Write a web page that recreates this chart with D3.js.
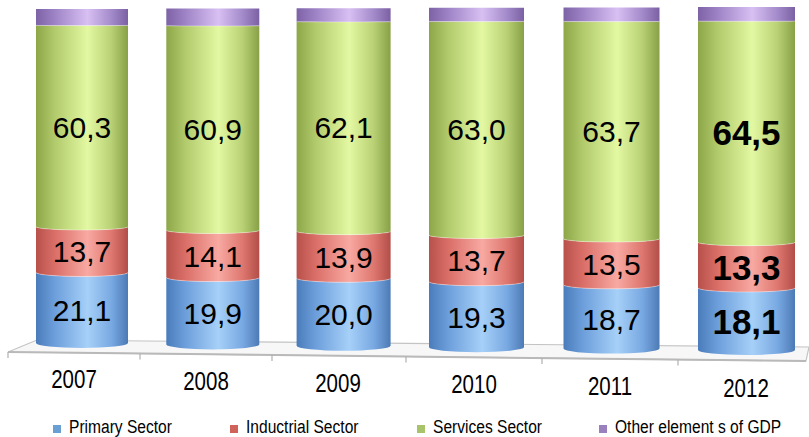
<!DOCTYPE html>
<html>
<head>
<meta charset="utf-8">
<script src="https://cdn.jsdelivr.net/npm/d3@7"></script>
<style>
  html, body { margin: 0; padding: 0; background: #fff; }
  svg { display: block; }
</style>
</head>
<body>
<svg id="chart" width="809" height="437"></svg>
<script>
// ---------- DATA ----------
const years = ["2007", "2008", "2009", "2010", "2011", "2012"];
const primary = [21.1, 19.9, 20.0, 19.3, 18.7, 18.1];
const industrial = [13.7, 14.1, 13.9, 13.7, 13.5, 13.3];
const services = [60.3, 60.9, 62.1, 63.0, 63.7, 64.5];
const other = [4.9, 5.1, 4.0, 4.0, 4.1, 4.1];
const seriesNames = ["Primary Sector", "Inductrial Sector", "Services Sector", "Other element s of GDP"];
const seriesKeys = ["primary", "industrial", "services", "other"];

// ---------- SETUP ----------
const svg = d3.select("#chart");
const rows = years.map((y, i) => ({
  year: y, primary: primary[i], industrial: industrial[i], services: services[i], other: other[i]
}));
const stack = d3.stack().keys(seriesKeys)(rows);

const idx = d3.scaleOrdinal().domain(years).range(d3.range(years.length));
// slight perspective: positions / sizes vary across bars
const xC = d3.scaleLinear().domain([0, 2.5, 5]).range([82, 409, 746.5]);
const barW = d3.scaleLinear().domain([0, 5]).range([92, 97]);
const yBase = d3.scaleLinear().domain([0, 5]).range([343, 350]);
const yTopS = d3.scaleLinear().domain([0, 5]).range([9, 7]);
const labelX = d3.scaleLinear().domain([0, 2, 5]).range([74, 338, 746]);
const labelY = d3.scaleLinear().domain([0, 5]).range([388, 397]);
const yScales = years.map((y, i) => d3.scaleLinear().domain([0, 100]).range([yBase(i), yTopS(i)]));
const ryAt = (i, y) => 5 * (y - yTopS(i)) / (yBase(i) - yTopS(i));

const fmt = v => d3.format(".1f")(v).replace(".", ",");
const NARROW = 0.82; // emulate a narrow sans with horizontal scaling

// ---------- GRADIENTS ----------
const gradStops = {
  primary:    ["#4a7cbb", "#6c9edb", "#a6d0f8", "#79a9e2", "#4c7ab5"],
  industrial: ["#b8514b", "#d96e67", "#f8a9a2", "#de776f", "#b24e48"],
  services:   ["#8ca648", "#b1ca6b", "#e3f8a2", "#b9d174", "#88a046"],
  other:      ["#7d63a6", "#9d83c5", "#d8c0f3", "#a38aca", "#7b61a3"]
};
const stopPos = [0, 0.2, 0.56, 0.82, 1];
const defs = svg.append("defs");
seriesKeys.forEach(k => {
  const g = defs.append("linearGradient").attr("id", "g-" + k)
    .attr("x1", "0%").attr("x2", "100%").attr("y1", "0%").attr("y2", "0%");
  gradStops[k].forEach((c, j) => g.append("stop").attr("offset", stopPos[j]).attr("stop-color", c));
});
const legendColors = { primary: "#6a9fd4", industrial: "#d0625c", services: "#a8c46a", other: "#9a80bd" };

// ---------- FLOOR ----------
const floorG = svg.append("g");
const fl = [[37, 340], [809, 347], [806, 361], [8, 352]];
floorG.append("path")
  .attr("d", "M" + fl.map(p => p.join(",")).join("L") + "Z")
  .attr("fill", "#f7f7f7").attr("stroke", "#c4c4c4").attr("stroke-width", 1.2);
const frontY = d3.scaleLinear().domain([8, 806]).range([352, 361]);
floorG.append("line")
  .attr("x1", 8).attr("y1", frontY(8)).attr("x2", 806).attr("y2", frontY(806))
  .attr("stroke", "#b9b9b9").attr("stroke-width", 2);
const tickXs = [8].concat(d3.range(years.length - 1).map(i => (labelX(i) + labelX(i + 1)) / 2));
floorG.selectAll("line.tick").data(tickXs).enter().append("line")
  .attr("class", "tick")
  .attr("x1", d => d).attr("x2", d => d)
  .attr("y1", d => frontY(d)).attr("y2", d => frontY(d) + 6)
  .attr("stroke", "#b0b0b0").attr("stroke-width", 1.2);

// ---------- BARS ----------
const barsG = svg.append("g");
function segPath(i, v0, v1) {
  const ys = yScales[i];
  const cx = xC(i), w = barW(i), rx = w / 2;
  const x0 = cx - rx, x1 = cx + rx;
  const yb = ys(v0), yt = ys(v1);
  const rb = Math.max(ryAt(i, yb), 0.01), rt = Math.max(ryAt(i, yt), 0.01);
  return `M${x0},${yt} A${rx},${rt} 0 0 0 ${x1},${yt} L${x1},${yb} A${rx},${rb} 0 0 1 ${x0},${yb} Z`;
}
stack.forEach(layer => {
  const k = layer.key;
  barsG.selectAll(null).data(layer).enter().append("path")
    .attr("d", (d, j) => segPath(j, d[0], d[1]))
    .attr("fill", "url(#g-" + k + ")");
});
// thin highlight on segment boundaries
stack.slice(0, 3).forEach(layer => {
  barsG.selectAll(null).data(layer).enter().append("path")
    .attr("d", (d, j) => {
      const ys = yScales[j], cx = xC(j), rx = barW(j) / 2;
      const y = ys(d[1]), r = Math.max(ryAt(j, y), 0.01);
      return `M${cx - rx},${y} A${rx},${r} 0 0 0 ${cx + rx},${y}`;
    })
    .attr("fill", "none").attr("stroke", "rgba(255,255,255,0.35)").attr("stroke-width", 1);
});

// ---------- VALUE LABELS ----------
const labelsG = svg.append("g");
stack.slice(0, 3).forEach(layer => {
  labelsG.selectAll(null).data(layer).enter().append("text")
    .attr("x", (d, j) => xC(j))
    .attr("y", (d, j) => {
      const ys = yScales[j];
      const ym = ys((d[0] + d[1]) / 2);
      return ym + ryAt(j, ym) * 0.6;
    })
    .attr("text-anchor", "middle")
    .attr("dominant-baseline", "central")
    .attr("font-family", "'Liberation Sans', Arial, sans-serif")
    .attr("font-size", (d, j) => j === years.length - 1 ? 35 : 30)
    .attr("font-weight", (d, j) => j === years.length - 1 ? "bold" : "normal")
    .attr("fill", "#000")
    .text(d => fmt(d[1] - d[0]));
});

// ---------- CATEGORY LABELS ----------
svg.append("g").selectAll("text").data(years).enter().append("text")
  .attr("transform", d => `translate(${labelX(idx(d))},${labelY(idx(d))}) scale(${NARROW},1)`)
  .attr("text-anchor", "middle")
  .attr("font-family", "'Liberation Sans', Arial, sans-serif")
  .attr("font-size", 25)
  .attr("fill", "#000")
  .text(d => d);

// ---------- LEGEND ----------
const legendItemX = d3.scaleOrdinal().domain(seriesKeys).range([53, 230, 417, 599]);
const lg = svg.append("g").selectAll("g").data(seriesKeys).enter().append("g")
  .attr("transform", k => `translate(${legendItemX(k)},0)`);
lg.append("rect").attr("x", 0).attr("y", 425).attr("width", 8).attr("height", 8)
  .attr("fill", k => legendColors[k]);
lg.append("text")
  .attr("transform", `translate(16,433) scale(${NARROW},1)`)
  .attr("font-family", "'Liberation Sans', Arial, sans-serif")
  .attr("font-size", 19)
  .attr("fill", "#000")
  .text((k, i) => seriesNames[i]);
</script>
</body>
</html>
